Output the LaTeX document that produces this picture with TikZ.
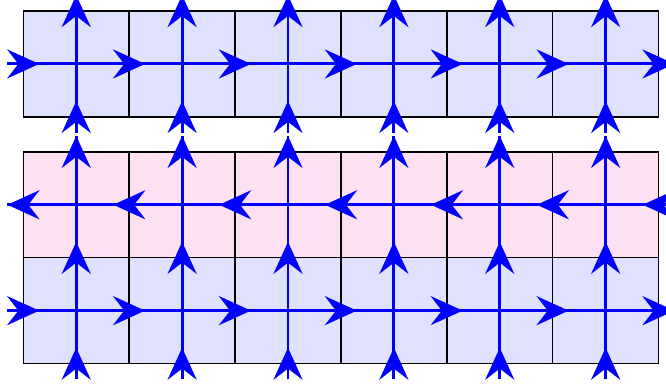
\documentclass[tikz,border=0pt]{standalone}
\usetikzlibrary{arrows.meta}

\begin{document}
\begin{tikzpicture}[
        x=1cm, y=1cm,
        cellblue/.style={draw=black, fill=blue!12},
        cellpink/.style={draw=black, fill=magenta!12},
        flux/.style={blue, thick},
        fluxtip/.style={blue, line width=0.8pt, arrows={-Stealth[length=8.6pt, width=7.8pt, inset=3pt]}},
      ]
        \clip (-0.22, -0.26) rectangle (6.07, 3.434);

        % Cells
        \foreach \i in {0,...,5} {
          \draw[cellblue] (\i, 2.33) rectangle ++(1, 1);
          \draw[cellpink] (\i, 1) rectangle ++(1, 1);
          \draw[cellblue] (\i, 0) rectangle ++(1, 1);
        }

        % Top row
        \draw[flux] (-0.15, 2.83) -- (6.15, 2.83);
        \foreach \i in {0,...,6}
          \draw[fluxtip] (\i-0.15, 2.83) -- (\i+0.15, 2.83);
        \foreach \i in {0,...,5} {
          \draw[flux] (\i+0.5, 2.18) -- (\i+0.5, 3.48);
          \draw[fluxtip] (\i+0.5, 2.18) -- (\i+0.5, 2.48);
          \draw[fluxtip] (\i+0.5, 3.18) -- (\i+0.5, 3.48);
        }

        % Lower block
        \draw[flux] (-0.15, 1.5) -- (6.15, 1.5);
        \draw[flux] (-0.15, 0.5) -- (6.15, 0.5);
        \foreach \i in {0,...,6} {
          \draw[fluxtip] (\i+0.15, 1.5) -- (\i-0.15, 1.5);
          \draw[fluxtip] (\i-0.15, 0.5) -- (\i+0.15, 0.5);
        }
        \foreach \i in {0,...,5} {
          \draw[flux] (\i+0.5, -0.15) -- (\i+0.5, 2.15);
          \foreach \j in {0,1,2}
            \draw[fluxtip] (\i+0.5, \j-0.15) -- (\i+0.5, \j+0.15);
        }
      \end{tikzpicture}
\end{document}
